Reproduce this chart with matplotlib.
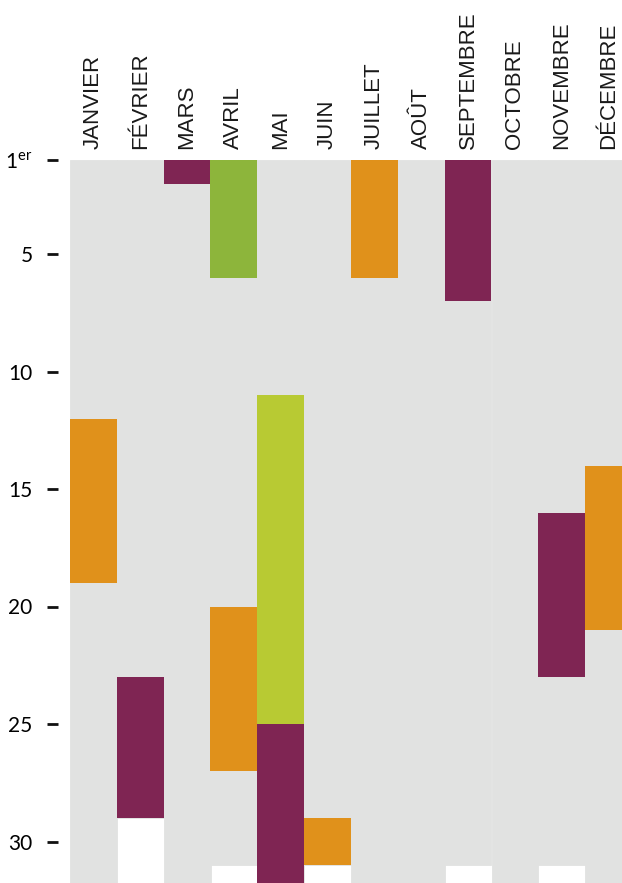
import matplotlib.pyplot as plt

months = ["JANVIER", "FÉVRIER", "MARS", "AVRIL", "MAI", "JUIN", "JUILLET",
          "AOÛT", "SEPTEMBRE", "OCTOBRE", "NOVEMBRE", "DÉCEMBRE"]
days_in_month = [31, 28, 31, 30, 31, 30, 31, 31, 30, 31, 30, 31]

# periods: month index, first day, day after last, colour
ev_month = [0, 1, 2, 3, 3, 4, 4, 5, 6, 8, 10, 11]
ev_start = [12, 23, 1, 1, 20, 11, 25, 29, 1, 1, 16, 14]
ev_end = [19, 29, 2, 6, 27, 25, 32, 31, 6, 7, 23, 21]
ev_color = ["#e0911b", "#7f2553", "#7f2553", "#8db53b", "#e0911b", "#b8ca33",
            "#7f2553", "#e0911b", "#e0911b", "#7f2553", "#7f2553", "#e0911b"]

yticks = [1, 5, 10, 15, 20, 25, 30]
ytick_labels = [r"1$^{\mathregular{er}}$", "5", "10", "15", "20", "25", "30"]

plt.rcParams["font.family"] = ["Lato", "DejaVu Sans"]
plt.rcParams["mathtext.fontset"] = "custom"
plt.rcParams["mathtext.rm"] = "Lato"

W, H = 622, 883
fig = plt.figure(figsize=(W / 100, H / 100), dpi=100)
# axes: x 70..632 px, y day1 at 160 px, 23.5 px per day
top_px = 160
day_px = 23.5
bottom_px = top_px + 31 * day_px
ax = fig.add_axes([70 / W, 1 - bottom_px / H, 562 / W, (bottom_px - top_px) / H])

x = list(range(12))
ax.bar(x, days_in_month, bottom=1, width=1, color="#e1e2e1",
       edgecolor="#e1e2e1", linewidth=0.6)
for m, s, e, c in zip(ev_month, ev_start, ev_end, ev_color):
    ax.bar(m, e - s, bottom=s, width=1, color=c, linewidth=0)

ax.set_xlim(-0.5, 11.5)
ax.set_ylim(32, 1)

ax.xaxis.tick_top()
ax.set_xticks(x)
ax.set_xticklabels(months, rotation=90, fontsize=16, family=["Liberation Sans"],
                   color="#1a1a1a")
ax.tick_params(axis="x", length=0, pad=8)

ax.set_yticks(yticks)
ax.set_yticklabels(ytick_labels, color="#1a1a1a")
ax.tick_params(axis="y", length=8, width=2, pad=10, color="#111111",
               labelsize=15)
ax.spines["left"].set_position(("outward", 9))

for sp in ax.spines.values():
    sp.set_visible(False)

fig.savefig("out.png", dpi=100)
